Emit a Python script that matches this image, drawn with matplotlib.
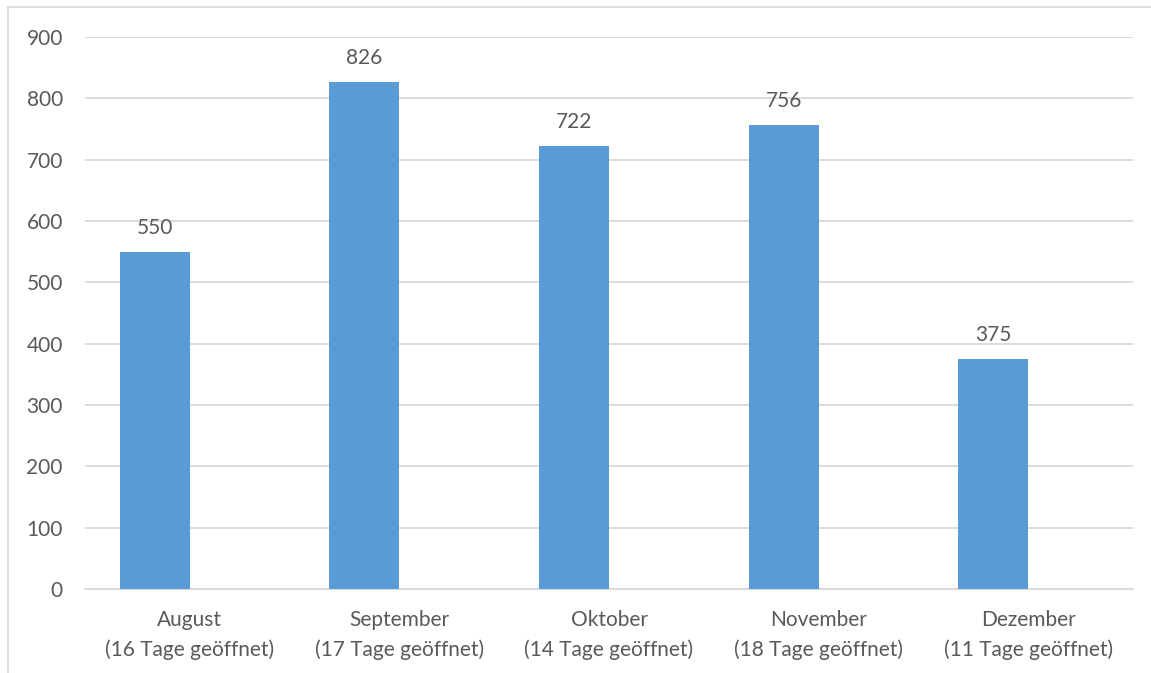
import matplotlib.pyplot as plt
from matplotlib.lines import Line2D

# Besucher pro Monat
months = ["August", "September", "Oktober", "November", "Dezember"]
open_days = [16, 17, 14, 18, 11]
visitors = [550, 826, 722, 756, 375]
y_ticks = [0, 100, 200, 300, 400, 500, 600, 700, 800, 900]

text_color = "#595959"
grid_color = "#d9d9d9"
bar_color = "#5b9bd5"

plt.rcParams["font.family"] = ["Lato", "DejaVu Sans"]
fs = 15

fig = plt.figure(figsize=(11.51, 6.73), dpi=100)
ax = fig.add_axes([85 / 1151, 1 - 589 / 673, (1133 - 85) / 1151, (589 - 37) / 673])

xs = list(range(len(months)))
bar_w = 0.334
ax.bar([x - bar_w for x in xs], visitors, width=bar_w, align="edge", color=bar_color, zorder=3)

for x, v in zip(xs, visitors):
    ax.annotate(str(v), (x - bar_w / 2, v), xytext=(0, 13), textcoords="offset points",
                ha="center", va="baseline", fontsize=fs, color=text_color)

ax.set_xlim(-0.5, len(months) - 0.5)
ax.set_ylim(0, 900)
ax.set_yticks(y_ticks)
ax.set_yticklabels([str(t) for t in y_ticks], fontsize=fs, color=text_color)
ax.set_xticks(xs)
ax.set_xticklabels([f"{m}\n({d} Tage geöffnet)" for m, d in zip(months, open_days)],
                   fontsize=fs, color=text_color, linespacing=1.55)
ax.tick_params(axis="both", length=0)
ax.tick_params(axis="y", pad=16)
ax.tick_params(axis="x", pad=15)

ax.grid(axis="y", color=grid_color, linewidth=1.3, zorder=0)
for side in ["top", "right", "left"]:
    ax.spines[side].set_visible(False)
ax.spines["bottom"].set_color(grid_color)
ax.spines["bottom"].set_linewidth(1.3)

# Rahmen des Diagrammbereichs (rechts/unten abgeschnitten)
fig.add_artist(Line2D([8 / 1151, 8 / 1151], [0, 1 - 7 / 673], color=grid_color, linewidth=1.3,
                      transform=fig.transFigure))
fig.add_artist(Line2D([8 / 1151, 1], [1 - 7 / 673, 1 - 7 / 673], color=grid_color, linewidth=1.3,
                      transform=fig.transFigure))

fig.savefig("out.png", dpi=100)
